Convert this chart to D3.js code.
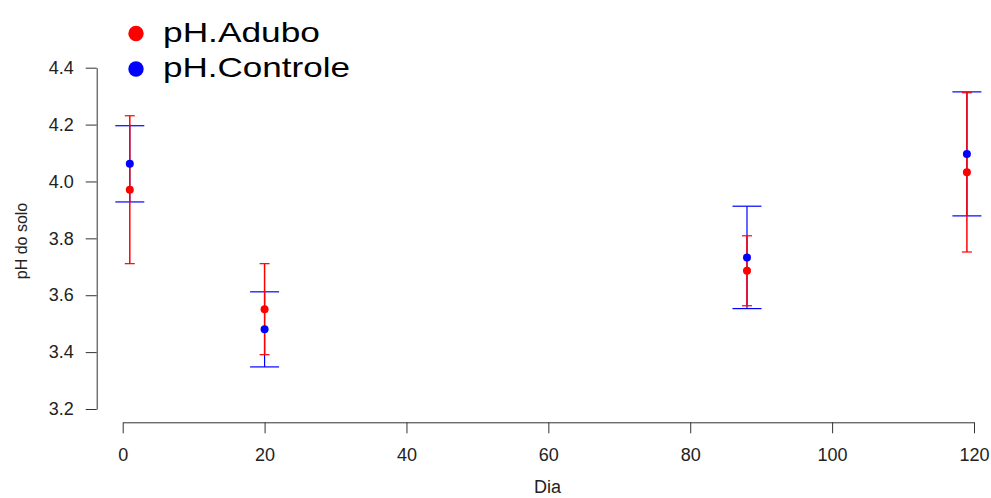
<!DOCTYPE html>
<html>
<head>
<meta charset="utf-8">
<script src="https://cdn.jsdelivr.net/npm/d3@7"></script>
<style>
  body { margin: 0; background: #fff; }
  svg { display: block; font-family: Arial, "Liberation Sans", sans-serif; }
  .axis path, .axis line { stroke: #333; stroke-width: 1; }
  .axis text { fill: #222; font-size: 18px; }
</style>
</head>
<body>
<svg id="chart" width="991" height="498"></svg>
<script>
// dias de coleta
const dias = [1, 20, 88, 119];

// pH com adubo (media e erro)
const phAdubo = [3.971, 3.551, 3.686, 4.032];
const errAdubo = [0.260, 0.160, 0.123, 0.280];

// pH controle (media e erro)
const phControle = [4.062, 3.480, 3.733, 4.097];
const errControle = [0.134, 0.132, 0.180, 0.218];

const xTicks = [0, 20, 40, 60, 80, 100, 120];
const yTicks = [3.2, 3.4, 3.6, 3.8, 4.0, 4.2, 4.4];

const series = [
  {name: 'pH.Adubo', color: '#ff0000', values: phAdubo, err: errAdubo, cap: 5, lw: 1.5},
  {name: 'pH.Controle', color: '#0000ff', values: phControle, err: errControle, cap: 14.5, lw: 1.2}
];

const svg = d3.select('#chart');

const xScale = d3.scaleLinear().domain([0, 120]).range([122.7, 974]);
const yScale = d3.scaleLinear().domain([3.2, 4.4]).range([409, 67.7]);

// eixos estilo R
svg.append('g')
  .attr('class', 'axis x')
  .attr('transform', 'translate(0,422.3)')
  .call(d3.axisBottom(xScale).tickValues(xTicks).tickSize(11).tickSizeOuter(0).tickPadding(15).tickFormat(d3.format('d')));

svg.append('g')
  .attr('class', 'axis y')
  .attr('transform', 'translate(96.7,0)')
  .call(d3.axisLeft(yScale).tickValues(yTicks).tickSize(11).tickSizeOuter(0).tickPadding(12).tickFormat(d3.format('.1f')));

// titulos dos eixos
svg.append('text')
  .attr('x', 547.5).attr('y', 493.3)
  .attr('text-anchor', 'middle')
  .attr('font-size', 18).attr('fill', '#222')
  .text('Dia');

svg.append('text')
  .attr('transform', 'translate(26.5,241) rotate(-90)')
  .attr('text-anchor', 'middle')
  .attr('font-size', 16).attr('fill', '#222')
  .text('pH do solo');

// barras de erro (controle primeiro, adubo por cima)
const order = [series[1], series[0]];
order.forEach(function(s) {
  const g = svg.append('g').attr('stroke', s.color);
  dias.forEach(function(d, i) {
    const x = xScale(d);
    const y0 = yScale(s.values[i] - s.err[i]);
    const y1 = yScale(s.values[i] + s.err[i]);
    g.append('line').attr('x1', x).attr('x2', x).attr('y1', y0).attr('y2', y1).attr('stroke-width', s.lw);
    g.append('line').attr('x1', x - s.cap).attr('x2', x + s.cap).attr('y1', y0).attr('y2', y0).attr('stroke-width', 1.2);
    g.append('line').attr('x1', x - s.cap).attr('x2', x + s.cap).attr('y1', y1).attr('y2', y1).attr('stroke-width', 1.2);
  });
});

// pontos
series.forEach(function(s) {
  svg.append('g').selectAll('circle')
    .data(s.values)
    .enter().append('circle')
    .attr('cx', function(d, i) { return xScale(dias[i]); })
    .attr('cy', function(d) { return yScale(d); })
    .attr('r', 4)
    .attr('fill', s.color);
});

// legenda
const legend = svg.append('g').selectAll('g')
  .data(series)
  .enter().append('g')
  .attr('transform', function(d, i) { return 'translate(136,' + (33.5 + i * 35.5) + ')'; });

legend.append('circle')
  .attr('r', 7.7)
  .attr('fill', function(d) { return d.color; });

legend.append('text')
  .attr('x', 27)
  .attr('y', 8)
  .attr('font-size', 28)
  .attr('fill', '#000')
  .attr('textLength', function(d) { return d.name === 'pH.Adubo' ? 157 : 187; })
  .attr('lengthAdjust', 'spacingAndGlyphs')
  .text(function(d) { return d.name; });
</script>
</body>
</html>
